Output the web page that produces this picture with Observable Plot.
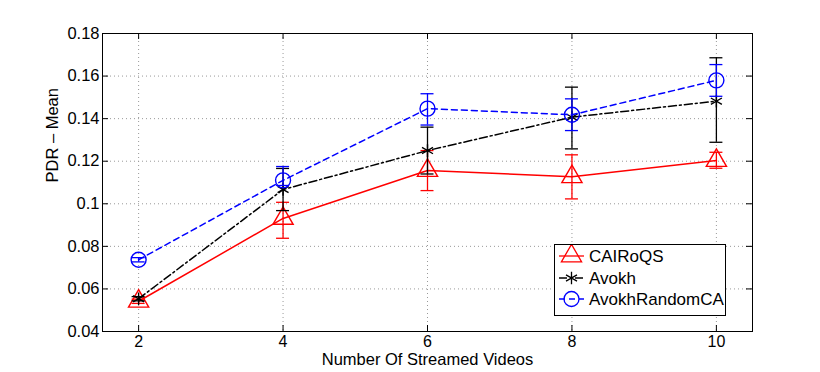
<!DOCTYPE html>
<html>
<head>
<meta charset="utf-8">
<script src="https://cdn.jsdelivr.net/npm/d3@7"></script>
<script src="https://cdn.jsdelivr.net/npm/@observablehq/plot@0.6"></script>
<style>
  body { margin: 0; background: #fff; font-family: "Liberation Sans", Arial, sans-serif; }
  #wrap { position: relative; width: 820px; height: 372px; }
  #legend { position: absolute; left: 554px; top: 244px; width: 172px; height: 72px;
            border: 1px solid #000; background: #fff; box-sizing: border-box; }
</style>
</head>
<body>
<div id="wrap"><div id="chart"></div><div id="legend"></div></div>
<script>
const xs = [2, 4, 6, 8, 10];
const xTicks = [2, 4, 6, 8, 10];
const yTicks = [0.04, 0.06, 0.08, 0.1, 0.12, 0.14, 0.16, 0.18];
const seriesNames = ["CAIRoQS", "Avokh", "AvokhRandomCA"];

const caiMean = [0.0542, 0.0931, 0.1156, 0.1127, 0.1203];
const caiLow  = [0.0532, 0.0838, 0.1062, 0.1023, 0.1167];
const caiHigh = [0.0552, 0.1007, 0.1250, 0.1230, 0.1242];

const avoMean = [0.0554, 0.1067, 0.1250, 0.1407, 0.1482];
const avoLow  = [0.0544, 0.0968, 0.1140, 0.1258, 0.1289];
const avoHigh = [0.0564, 0.1166, 0.1360, 0.1548, 0.1686];

const rndMean = [0.0737, 0.1110, 0.1447, 0.1418, 0.1580];
const rndLow  = [0.0727, 0.1086, 0.1370, 0.1344, 0.1505];
const rndHigh = [0.0747, 0.1175, 0.1517, 0.1493, 0.1654];

const styles = {
  "CAIRoQS":       {color: "#ff0000", dash: null,        symbol: "triangle", r: 7.5},
  "Avokh":         {color: "#000000", dash: "8,3,2,3",   symbol: "asterisk", r: 6},
  "AvokhRandomCA": {color: "#0000ff", dash: "6,4",       symbol: "circle",   r: 7.5}
};

const allMeans = [caiMean, avoMean, rndMean];
const allLows = [caiLow, avoLow, rndLow];
const allHighs = [caiHigh, avoHigh, rndHigh];

const W = 820, H = 372;
const mL = 102, mR = 68, mT = 33, mB = 41;
const pw = W - mL - mR, ph = H - mT - mB;
const capHalf = 0.09;
const font = "Liberation Sans, Arial, sans-serif";

const marks = [];
// grid
marks.push(Plot.ruleX(xTicks, {x: d => d, stroke: "#999", strokeDasharray: "1,3", strokeWidth: 1}));
marks.push(Plot.ruleY(yTicks.slice(1, -1), {y: d => d, stroke: "#999", strokeDasharray: "1,3", strokeWidth: 1}));
// inward ticks
marks.push(Plot.ruleY(yTicks, {y: d => d, insetRight: pw - 6, stroke: "#000"}));
marks.push(Plot.ruleY(yTicks, {y: d => d, insetLeft: pw - 6, stroke: "#000"}));
marks.push(Plot.ruleX(xTicks, {x: d => d, insetTop: ph - 6, stroke: "#000"}));
marks.push(Plot.ruleX(xTicks, {x: d => d, insetBottom: ph - 6, stroke: "#000"}));

seriesNames.forEach((name, i) => {
  const s = styles[name];
  const data = xs.map((x, j) => ({x, m: allMeans[i][j], lo: allLows[i][j], hi: allHighs[i][j]}));
  marks.push(Plot.ruleX(data, {x: "x", y1: "lo", y2: "hi", stroke: s.color, strokeWidth: 1.3}));
  marks.push(Plot.ruleY(data, {y: "lo", x1: d => d.x - capHalf, x2: d => d.x + capHalf, stroke: s.color, strokeWidth: 1.3}));
  marks.push(Plot.ruleY(data, {y: "hi", x1: d => d.x - capHalf, x2: d => d.x + capHalf, stroke: s.color, strokeWidth: 1.3}));
  marks.push(Plot.line(data, {x: "x", y: "m", stroke: s.color, strokeWidth: 1.5, strokeDasharray: s.dash}));
  marks.push(Plot.dot(data, {x: "x", y: "m", symbol: s.symbol, r: s.r, stroke: s.color, fill: "none", strokeWidth: 1.4}));
});

marks.push(Plot.frame({stroke: "#000", strokeWidth: 1}));
marks.push(Plot.axisX({ticks: xTicks, tickSize: 0, tickPadding: 4, fontSize: 16, label: null, tickFormat: d => String(d)}));
marks.push(Plot.axisY({ticks: yTicks, tickSize: 0, tickPadding: 3, fontSize: 16.5, label: null, tickFormat: d => String(+d.toFixed(2))}));
marks.push(Plot.text(["Number Of Streamed Videos"], {frameAnchor: "bottom", dy: 28, lineAnchor: "middle", fontSize: 16.5, fill: "#000"}));
marks.push(Plot.text(["PDR \u2013 Mean"], {frameAnchor: "left", dx: -50, rotate: -90, lineAnchor: "middle", fontSize: 16.5, fill: "#000"}));

const chart = Plot.plot({
  width: W, height: H,
  marginLeft: mL, marginRight: mR, marginTop: mT, marginBottom: mB,
  style: {fontFamily: font, color: "#000", background: "#fff", fontSize: "16px"},
  x: {domain: [1.5, 10.5]},
  y: {domain: [0.04, 0.18]},
  marks
});
document.getElementById("chart").appendChild(chart);

// legend
const lg = d3.select("#legend").append("svg").attr("width", 170).attr("height", 70);
const rowY = [11, 33, 54];
seriesNames.forEach((name, i) => {
  const s = styles[name];
  const g = lg.append("g").attr("transform", `translate(0,${rowY[i]})`);
  g.append("line").attr("x1", 4).attr("x2", 29).attr("y1", 0).attr("y2", 0)
    .attr("stroke", s.color).attr("stroke-width", 1.3).attr("stroke-dasharray", s.dash || null);
  const symMap = {triangle: d3.symbolTriangle, asterisk: d3.symbolAsterisk, circle: d3.symbolCircle};
  const size = Math.PI * s.r * s.r;
  g.append("path").attr("transform", "translate(16.5,0)")
    .attr("d", d3.symbol(symMap[s.symbol], size)())
    .attr("fill", "none").attr("stroke", s.color).attr("stroke-width", 1.3);
  g.append("text").attr("x", 34).attr("y", 0).attr("dy", "0.35em")
    .attr("font-size", 17).attr("font-family", font).text(name);
});
</script>
</body>
</html>
